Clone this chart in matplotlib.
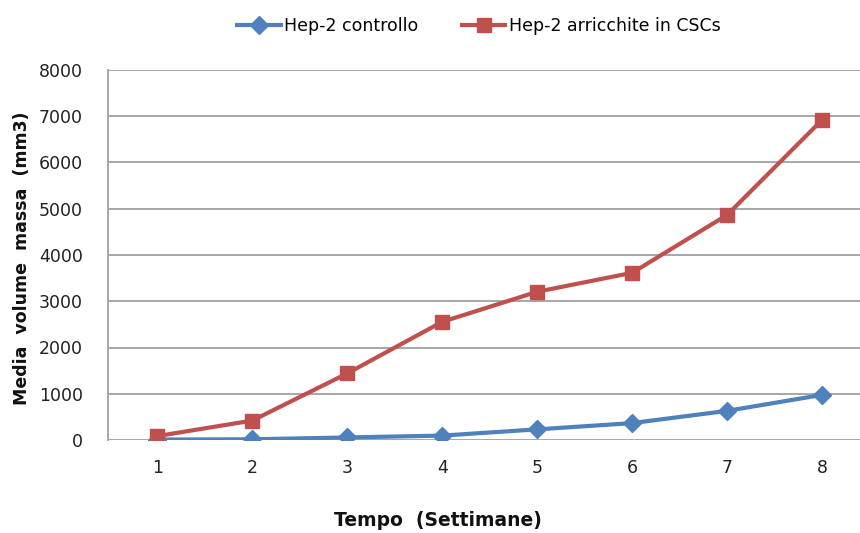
import matplotlib
matplotlib.use("Agg")
import matplotlib.pyplot as plt

weeks = [1, 2, 3, 4, 5, 6, 7, 8]
controllo = [10, 15, 55, 95, 230, 365, 630, 975]
csc = [85, 420, 1440, 2555, 3205, 3615, 4865, 6920]
yticks = [0, 1000, 2000, 3000, 4000, 5000, 6000, 7000, 8000]

plt.rcParams['font.family'] = ['DejaVu Sans']

fig = plt.figure(figsize=(8.6, 5.33), dpi=100)
ax = fig.add_axes([108/860, 93/533, 1 - 108/860, 370/533])

blue = '#4F81BD'
red = '#C0504D'

ax.plot(weeks, controllo, color=blue, lw=3, marker='D', ms=9, label='Hep-2 controllo', zorder=3)
ax.plot(weeks, csc, color=red, lw=3, marker='s', ms=10, label='Hep-2 arricchite in CSCs', zorder=4)

ax.set_ylim(0, 8000)
ax.set_xlim(0.48, 8.4)
ax.set_yticks(yticks)
ax.set_yticklabels([str(v) for v in yticks])
ax.set_xticks(weeks)
ax.set_xticklabels([str(w) for w in weeks])
ax.grid(axis='y', color='#a0a0a0', lw=1.3)
ax.set_axisbelow(True)
for s in ['top', 'right', 'bottom']:
    ax.spines[s].set_visible(False)
ax.spines['left'].set_color('#a0a0a0')
ax.spines['left'].set_linewidth(1.3)
ax.tick_params(axis='both', length=0, labelsize=12.5, colors='#222222')
ax.tick_params(axis='y', pad=18)
ax.tick_params(axis='x', pad=14)

fig.text(438/860, 1 - 521/533, 'Tempo  (Settimane)', fontsize=13.5, fontweight='bold',
         ha='center', va='center', color='#111111')
fig.text(22/860, 1 - 258/533, 'Media  volume  massa  (mm3)', fontsize=12.5, fontweight='bold',
         ha='center', va='center', rotation=90, color='#111111')

leg = fig.legend(loc='upper center', bbox_to_anchor=(0.557, 0.997), ncol=2, frameon=False,
                 fontsize=12.5, handlelength=2.5, columnspacing=2.5, handletextpad=0.2)

fig.savefig('out.png', dpi=100)
